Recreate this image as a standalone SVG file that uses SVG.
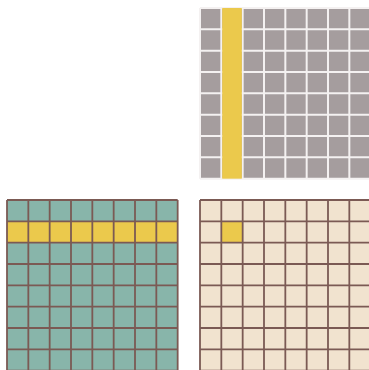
<svg xmlns="http://www.w3.org/2000/svg" xmlns:xlink="http://www.w3.org/1999/xlink" width="369" height="370" viewBox="0 0 369 370">
  <style>
    .grey { fill: #a59d9e; }
    .teal { fill: #88b5aa; }
    .beige { fill: #f1e3cf; }
    .hl { fill: #ebc94c; }
    .wline { fill: none; stroke: #f4f1f1; stroke-width: 2; }
    .bline { fill: none; stroke: #7b5a54; stroke-width: 1.8; }
  </style>
  <defs>
    <path id="gridlines" d="M0 0V170.67M21.33 0V170.67M42.67 0V170.67M64 0V170.67M85.33 0V170.67M106.67 0V170.67M128 0V170.67M149.33 0V170.67M170.67 0V170.67M0 0H170.67M0 21.33H170.67M0 42.67H170.67M0 64H170.67M0 85.33H170.67M0 106.67H170.67M0 128H170.67M0 149.33H170.67M0 170.67H170.67"/>
  </defs>
  <rect width="369" height="370" fill="#ffffff"/>
  <g id="grid-top-right" transform="translate(200 8)">
    <rect class="grey" x="0" y="0" width="170.67" height="170.67"/>
    <use xlink:href="#gridlines" class="wline"/>
    <rect class="hl" x="22.2" y="0" width="19.6" height="170.67"/>
  </g>
  <g id="grid-bottom-left" transform="translate(7 200)">
    <rect class="teal" x="0" y="0" width="170.67" height="170.67"/>
    <rect class="hl" x="0" y="21.33" width="170.67" height="21.33"/>
    <use xlink:href="#gridlines" class="bline"/>
  </g>
  <g id="grid-bottom-right" transform="translate(200 200)">
    <rect class="beige" x="0" y="0" width="170.67" height="170.67"/>
    <rect class="hl" x="21.33" y="21.33" width="21.33" height="21.33"/>
    <use xlink:href="#gridlines" class="bline"/>
  </g>
</svg>
